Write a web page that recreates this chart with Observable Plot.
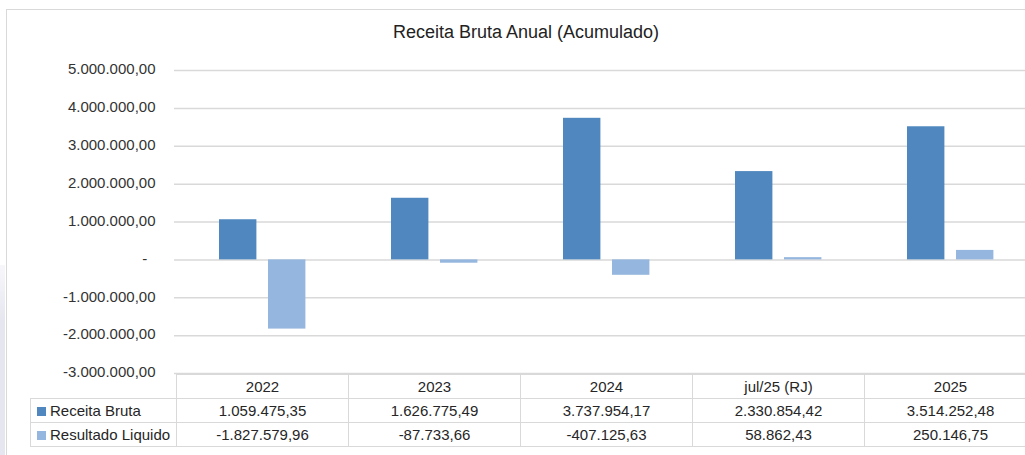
<!DOCTYPE html>
<html><head><meta charset="utf-8">
<script src="https://cdn.jsdelivr.net/npm/d3@7"></script>
<script src="https://cdn.jsdelivr.net/npm/@observablehq/plot@0.6"></script>
<style>
html,body{margin:0;padding:0;background:#fff;overflow:hidden;width:1025px;height:455px;font-family:"Liberation Sans",Arial,sans-serif;}
#strip{position:absolute;left:0;top:265px;width:5px;height:190px;background:linear-gradient(#f7f7fb,#e6e6f0 30%,#e6e6f0);}
#frame{position:absolute;left:6px;top:9px;width:1100px;height:520px;border:1.5px solid #d9d9d9;box-sizing:border-box;}
#title{position:absolute;left:0;top:21px;width:1052px;text-align:center;font-size:18px;line-height:22px;color:#222;}
#chart{position:absolute;left:0;top:0;width:1040px;}
#chart svg{max-width:none !important;}
#tbl{position:absolute;left:30px;top:374px;border-collapse:collapse;table-layout:fixed;font-size:15px;color:#262626;}
#tbl td{border:1.5px solid #d9d9d9;height:23px;padding:0;text-align:center;white-space:nowrap;overflow:hidden;}
#tbl td.leg{text-align:left;padding-left:6px;}
#tbl td.empty{border-top:none;border-left:none;}
.sw{display:inline-block;width:9px;height:9px;margin-right:4px;vertical-align:0px;}
</style></head>
<body>
<div id="strip"></div>
<div id="frame"></div>
<div id="title">Receita Bruta Anual (Acumulado)</div>
<div id="chart"></div>
<script>
// ---- data ----
const categories = ["2022", "2023", "2024", "jul/25 (RJ)", "2025"];
const receitaBruta = [1059475.35, 1626775.49, 3737954.17, 2330854.42, 3514252.48];
const resultadoLiquido = [-1827579.96, -87733.66, -407125.63, 58862.43, 250146.75];
const seriesNames = ["Receita Bruta", "Resultado Liquido"];
const yTicks = [-3000000, -2000000, -1000000, 0, 1000000, 2000000, 3000000, 4000000, 5000000];

const colors = ["#4F87BE", "#95B6DE"];
const loc = d3.formatLocale({decimal: ",", thousands: ".", grouping: [3], currency: ["", ""], minus: "-"});
const fmt = loc.format(",.2f");
const fmtTick = d => d === 0 ? "-\u2007" : fmt(d);

const rows = categories.map((c, i) => ({cat: c, receita: receitaBruta[i], resultado: resultadoLiquido[i]}));

const chart = Plot.plot({
  width: 1040, height: 380,
  marginLeft: 174, marginRight: 3, marginTop: 70, marginBottom: 7,
  x: {type: "band", domain: categories, padding: 0, axis: null},
  y: {domain: [-3000000, 5000000], axis: null},
  style: {fontFamily: "'Liberation Sans', Arial, sans-serif", fontSize: "15px", color: "#333", background: "transparent", maxWidth: "none"},
  marks: [
    Plot.ruleY(yTicks, {stroke: "#d9d9d9", strokeWidth: 1.5}),
    Plot.barY(rows, {x: "cat", y: "receita", fill: colors[0], insetLeft: 43, insetRight: 91.6}),
    Plot.barY(rows, {x: "cat", y: "resultado", fill: colors[1], insetLeft: 92, insetRight: 42.6}),
    Plot.axisY(yTicks, {tickSize: 0, tickPadding: 19, tickFormat: fmtTick, fontSize: 15, dy: -1, fill: "#333"})
  ]
});
document.getElementById("chart").appendChild(chart);

// ---- data table aligned with the x scale ----
const xs = chart.scale("x");
const bw = xs.bandwidth;
const tbl = document.createElement("table");
tbl.id = "tbl";
const cg = document.createElement("colgroup");
const c0 = document.createElement("col"); c0.style.width = (xs.apply(categories[0]) - 30) + "px"; cg.appendChild(c0);
categories.forEach(() => { const c = document.createElement("col"); c.style.width = bw + "px"; cg.appendChild(c); });
tbl.appendChild(cg);
tbl.style.width = (xs.apply(categories[0]) - 30 + bw * categories.length) + "px";
const hr = document.createElement("tr");
const e = document.createElement("td"); e.className = "empty"; hr.appendChild(e);
categories.forEach(c => { const td = document.createElement("td"); td.textContent = c; hr.appendChild(td); });
tbl.appendChild(hr);
[receitaBruta, resultadoLiquido].forEach((vals, s) => {
  const tr = document.createElement("tr");
  const l = document.createElement("td"); l.className = "leg";
  const sw = document.createElement("span"); sw.className = "sw"; sw.style.background = colors[s];
  l.appendChild(sw); l.appendChild(document.createTextNode(seriesNames[s]));
  tr.appendChild(l);
  vals.forEach(v => { const td = document.createElement("td"); td.textContent = fmt(v); tr.appendChild(td); });
  tbl.appendChild(tr);
});
document.body.appendChild(tbl);
</script>
</body></html>
